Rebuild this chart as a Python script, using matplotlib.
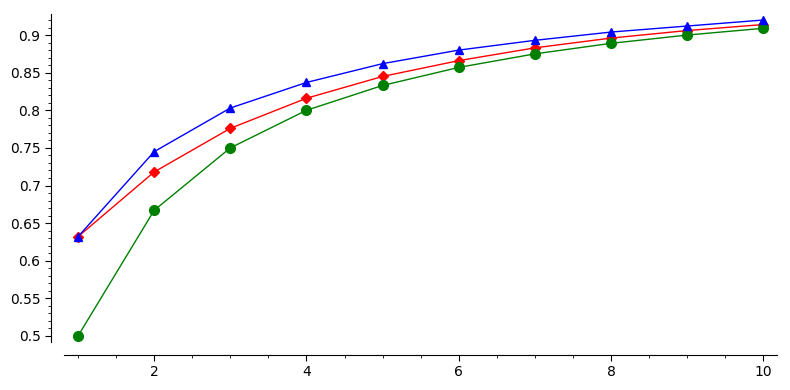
import numpy as np
from matplotlib import pyplot as plt
from matplotlib.ticker import MultipleLocator, FuncFormatter

n = [1, 2, 3, 4, 5, 6, 7, 8, 9, 10]
red_vals = [0.632, 0.718, 0.776, 0.816, 0.845, 0.866, 0.883, 0.896, 0.906, 0.914]
green_vals = [0.5, 0.667, 0.75, 0.8, 0.833, 0.857, 0.875, 0.889, 0.9, 0.909]
blue_vals = [0.632, 0.745, 0.803, 0.837, 0.862, 0.880, 0.893, 0.904, 0.912, 0.920]

fig = plt.figure(figsize=(7.9, 3.9), dpi=100)
ax = fig.add_axes([64 / 790, 48 / 390, 713 / 790, 328 / 390])

ax.plot(n, red_vals, color='red', marker='D', markersize=5, linewidth=1, zorder=3)
ax.plot(n, green_vals, color='green', marker='o', markersize=7, linewidth=1, zorder=4)
ax.plot(n, blue_vals, color='blue', marker='^', markersize=6, linewidth=1, zorder=5)

ax.set_xlim(0.816, 10.18)
ax.set_ylim(0.492, 0.928)

for s in ['top', 'right']:
    ax.spines[s].set_visible(False)
# offsets in points (13 px at 100 dpi)
ax.spines['left'].set_position(('outward', 9.4))
ax.spines['bottom'].set_position(('outward', 9.4))

ax.xaxis.set_major_locator(MultipleLocator(2))
ax.xaxis.set_minor_locator(MultipleLocator(0.5))
ax.yaxis.set_major_locator(MultipleLocator(0.05))
ax.yaxis.set_minor_locator(MultipleLocator(0.01))
ax.yaxis.set_major_formatter(FuncFormatter(lambda v, p: '%g' % round(v, 2)))
ax.tick_params(which='major', length=4, labelsize=10)
ax.tick_params(which='minor', length=2)

plt.savefig('out.png', dpi=100)
plt.close()
